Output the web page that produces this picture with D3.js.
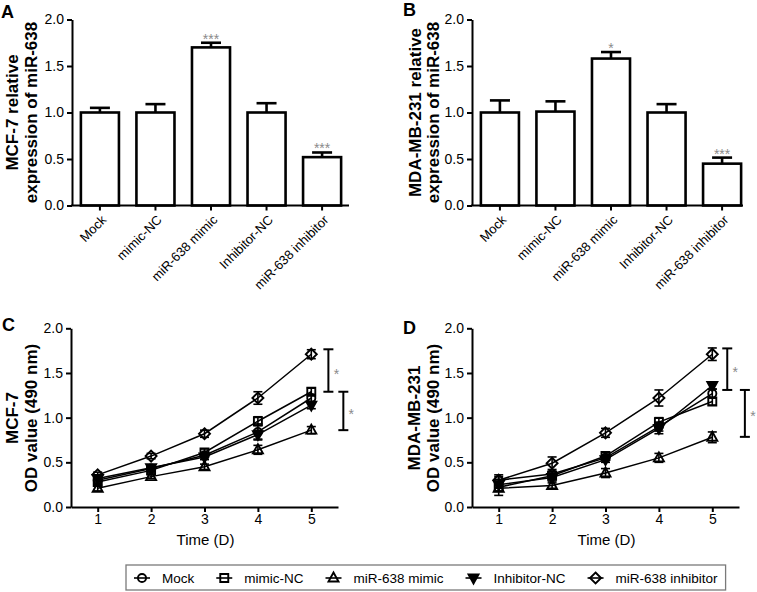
<!DOCTYPE html>
<html><head><meta charset="utf-8">
<script src="https://cdn.jsdelivr.net/npm/d3@7"></script>
<style>body{margin:0;background:#fff}svg{display:block}</style>
</head><body>
<svg id="c" width="757" height="592"></svg>
<script>
// ---------- DATA ----------
const categories = ["Mock", "mimic-NC", "miR-638 mimic", "Inhibitor-NC", "miR-638 inhibitor"];
const yTickValues = [0, 0.5, 1.0, 1.5, 2.0];

// Panel A: MCF-7 relative expression
const mcfBarValues = [1.00, 1.00, 1.70, 1.00, 0.52];
const mcfBarErrors = [0.05, 0.09, 0.05, 0.10, 0.05];
const mcfBarStars  = ["", "", "***", "", "***"];
// Panel B: MDA-MB-231 relative expression
const mdaBarValues = [1.00, 1.01, 1.58, 1.00, 0.45];
const mdaBarErrors = [0.13, 0.11, 0.07, 0.09, 0.065];
const mdaBarStars  = ["", "", "*", "", "***"];

// Panels C/D: OD value over days
const days = [1, 2, 3, 4, 5];
const seriesNames = ["Mock", "mimic-NC", "miR-638 mimic", "Inhibitor-NC", "miR-638 inhibitor"];
const seriesSymbols = ["circle", "square", "triangle", "triangleDown", "diamond"];

const mcfMock      = [0.30, 0.43, 0.58, 0.84, 1.22];
const mcfMockErr   = [0.03, 0.03, 0.03, 0.09, 0.04];
const mcfMimicNC   = [0.28, 0.41, 0.61, 0.96, 1.29];
const mcfMimicNCErr= [0.03, 0.03, 0.04, 0.05, 0.04];
const mcfMimic     = [0.21, 0.34, 0.45, 0.64, 0.86];
const mcfMimicErr  = [0.03, 0.02, 0.03, 0.05, 0.04];
const mcfInhNC     = [0.32, 0.44, 0.56, 0.81, 1.14];
const mcfInhNCErr  = [0.03, 0.03, 0.03, 0.05, 0.04];
const mcfInhib     = [0.36, 0.57, 0.82, 1.22, 1.71];
const mcfInhibErr  = [0.03, 0.03, 0.04, 0.07, 0.05];
const mcfBrackets  = [[1.765, 1.29], [1.29, 0.86]];

const mdaMock      = [0.30, 0.37, 0.55, 0.90, 1.27];
const mdaMockErr   = [0.06, 0.03, 0.03, 0.05, 0.05];
const mdaMimicNC   = [0.22, 0.35, 0.57, 0.95, 1.18];
const mdaMimicNCErr= [0.09, 0.03, 0.04, 0.05, 0.04];
const mdaMimic     = [0.21, 0.24, 0.38, 0.55, 0.78];
const mdaMimicErr  = [0.03, 0.03, 0.05, 0.05, 0.06];
const mdaInhNC     = [0.25, 0.33, 0.53, 0.88, 1.36];
const mdaInhNCErr  = [0.04, 0.04, 0.03, 0.06, 0.04];
const mdaInhib     = [0.30, 0.49, 0.83, 1.22, 1.71];
const mdaInhibErr  = [0.04, 0.07, 0.05, 0.09, 0.07];
const mdaBrackets  = [[1.775, 1.31], [1.31, 0.785]];

// ---------- DRAWING ----------
const FONT = "'Liberation Sans', Arial, Helvetica, sans-serif";
const svg = d3.select("#c").style("font-family", FONT);
svg.append("rect").attr("width", 757).attr("height", 592).attr("fill", "#fff");
const fmt = d3.format(".1f");

function styleAxis(g) {
  g.select(".domain").attr("stroke", "#000").attr("stroke-width", 2);
  g.selectAll(".tick line").attr("stroke", "#000").attr("stroke-width", 2);
  g.selectAll(".tick text").attr("fill", "#000").style("font-size", "14px").style("font-family", FONT);
}

function yTitle(x1, x2, yc, lines) {
  [x1, x2].forEach((x, i) => {
    svg.append("text").attr("transform", `translate(${x},${yc}) rotate(-90)`)
      .attr("text-anchor", "middle").style("font-size", "17px").style("font-weight", "bold")
      .text(lines[i]);
  });
}
function letter(x, y, t) {
  svg.append("text").attr("x", x).attr("y", y).style("font-size", "18px").style("font-weight", "bold").text(t);
}

function barPanel(cfg, values, errors, stars) {
  const x = d3.scaleBand().domain(categories).range([cfg.x0, cfg.x1]).paddingInner(0.315).paddingOuter(0.16);
  const y = d3.scaleLinear().domain([0, 2]).range([cfg.yb, cfg.yt]);
  const bw = x.bandwidth();
  const g = svg.append("g");
  g.selectAll("rect.bar").data(categories).join("rect")
    .attr("x", d => x(d)).attr("y", (d, i) => y(values[i]))
    .attr("width", bw).attr("height", (d, i) => y(0) - y(values[i]))
    .attr("fill", "#fff").attr("stroke", "#000").attr("stroke-width", 2.6);
  categories.forEach((c, i) => {
    const cx = x(c) + bw / 2, top = y(values[i] + errors[i]);
    g.append("line").attr("x1", cx).attr("x2", cx).attr("y1", y(values[i])).attr("y2", top)
      .attr("stroke", "#000").attr("stroke-width", 2.6);
    g.append("line").attr("x1", cx - 10).attr("x2", cx + 10).attr("y1", top).attr("y2", top)
      .attr("stroke", "#000").attr("stroke-width", 2.6);
    if (stars[i]) {
      g.append("text").attr("x", cx).attr("y", top + 1).attr("text-anchor", "middle")
        .attr("fill", "#8a8a8a").style("font-size", "14px").text(stars[i]);
    }
  });
  const ya = g.append("g").attr("transform", `translate(${cfg.x0},0)`)
    .call(d3.axisLeft(y).tickValues(yTickValues).tickFormat(fmt).tickSize(5).tickPadding(3).tickSizeOuter(0));
  styleAxis(ya);
  g.append("line").attr("x1", cfg.x0 - 1).attr("x2", cfg.axisEnd).attr("y1", cfg.yb).attr("y2", cfg.yb)
    .attr("stroke", "#000").attr("stroke-width", 2);
  categories.forEach(c => {
    const cx = x(c) + bw / 2;
    g.append("line").attr("x1", cx).attr("x2", cx).attr("y1", cfg.yb).attr("y2", cfg.yb + 5)
      .attr("stroke", "#000").attr("stroke-width", 2);
    g.append("text").attr("transform", `translate(${cx + 4},${cfg.yb + 12}) rotate(-45)`)
      .attr("text-anchor", "end").attr("dy", "0.35em").style("font-size", "13px").text(c);
  });
}

function markerPath(sym) {
  if (sym === "circle") return d3.symbol(d3.symbolCircle, 52)();
  if (sym === "square") return d3.symbol(d3.symbolSquare, 64)();
  if (sym === "triangle") return "M0,-5.5L5,3.5L-5,3.5Z";
  if (sym === "triangleDown") return "M0,5.5L5,-3.5L-5,-3.5Z";
  return "M0,-5.5L5.5,0L0,5.5L-5.5,0Z";
}
function drawMarker(g, sym, cx, cy) {
  g.append("path").attr("d", markerPath(sym)).attr("transform", `translate(${cx},${cy})`)
    .attr("fill", sym === "triangleDown" ? "#000" : "none").attr("stroke", "#000").attr("stroke-width", 1.9);
}

function linePanel(cfg, series, errs, brackets) {
  const x = d3.scaleLinear().domain([0.5, 5.5]).range([cfg.x0, cfg.x1]);
  const y = d3.scaleLinear().domain([0, 2]).range([cfg.yb, cfg.yt]);
  const g = svg.append("g");
  const line = d3.line().x((d, i) => x(days[i])).y(d => y(d));
  series.forEach(vals => {
    g.append("path").attr("d", line(vals)).attr("fill", "none").attr("stroke", "#000").attr("stroke-width", 1.5);
  });
  series.forEach((vals, s) => {
    vals.forEach((v, i) => {
      const cx = x(days[i]), e = errs[s][i];
      g.append("line").attr("x1", cx).attr("x2", cx).attr("y1", y(v - e)).attr("y2", y(v + e))
        .attr("stroke", "#000").attr("stroke-width", 1.6);
      [v - e, v + e].forEach(w => g.append("line").attr("x1", cx - 4.5).attr("x2", cx + 4.5)
        .attr("y1", y(w)).attr("y2", y(w)).attr("stroke", "#000").attr("stroke-width", 1.6));
      drawMarker(g, seriesSymbols[s], cx, y(v));
    });
  });
  const ya = g.append("g").attr("transform", `translate(${cfg.x0},0)`)
    .call(d3.axisLeft(y).tickValues(yTickValues).tickFormat(fmt).tickSize(5).tickPadding(3).tickSizeOuter(0));
  styleAxis(ya);
  const xa = g.append("g").attr("transform", `translate(0,${cfg.yb})`)
    .call(d3.axisBottom(x).tickValues(days).tickFormat(d3.format("d")).tickSize(5).tickPadding(2).tickSizeOuter(0));
  styleAxis(xa);
  g.append("text").attr("x", (cfg.x0 + cfg.x1) / 2 + 1).attr("y", cfg.yb + 38).attr("text-anchor", "middle")
    .style("font-size", "15px").text("Time (D)");
  brackets.forEach((b, k) => {
    const bx = x(cfg.bracketX[k]);
    g.append("line").attr("x1", bx).attr("x2", bx).attr("y1", y(b[0])).attr("y2", y(b[1]))
      .attr("stroke", "#000").attr("stroke-width", 2);
    b.forEach(w => g.append("line").attr("x1", bx - 5).attr("x2", bx + 5).attr("y1", y(w)).attr("y2", y(w))
      .attr("stroke", "#000").attr("stroke-width", 2));
    g.append("text").attr("x", bx + 8).attr("y", (y(b[0]) + y(b[1])) / 2 + 8)
      .attr("text-anchor", "middle").attr("fill", "#8a8a8a").style("font-size", "14px").text("*");
  });
}

// Panel A
barPanel({x0: 72, x1: 350, axisEnd: 349, yt: 19.5, yb: 205.5}, mcfBarValues, mcfBarErrors, mcfBarStars);
yTitle(18, 37, 112.5, ["MCF-7 relative", "expression of miR-638"]);
letter(1, 18, "A");
// Panel B
barPanel({x0: 472, x1: 750, axisEnd: 743, yt: 19.5, yb: 205.5}, mdaBarValues, mdaBarErrors, mdaBarStars);
yTitle(421, 439, 112.5, ["MDA-MB-231 relative", "expression of miR-638"]);
letter(403, 16, "B");
// Panel C
linePanel({x0: 71, x1: 338, yt: 328.3, yb: 507, bracketX: [5.32, 5.6]},
  [mcfMock, mcfMimicNC, mcfMimic, mcfInhNC, mcfInhib],
  [mcfMockErr, mcfMimicNCErr, mcfMimicErr, mcfInhNCErr, mcfInhibErr], mcfBrackets);
yTitle(18, 37, 418, ["MCF-7", "OD value (490 nm)"]);
letter(2, 331, "C");
// Panel D
linePanel({x0: 472, x1: 739, yt: 328.3, yb: 507, bracketX: [5.28, 5.61]},
  [mdaMock, mdaMimicNC, mdaMimic, mdaInhNC, mdaInhib],
  [mdaMockErr, mdaMimicNCErr, mdaMimicErr, mdaInhNCErr, mdaInhibErr], mdaBrackets);
yTitle(420, 439, 418, ["MDA-MB-231", "OD value (490 nm)"]);
letter(403, 334, "D");

// Legend
const lg = svg.append("g");
const box = lg.append("rect").attr("y", 565).attr("height", 25).attr("fill", "#fff")
  .attr("stroke", "#7a7a7a").attr("stroke-width", 1.3);
let lx = 134;
const ly = 578;
seriesNames.forEach((name, s) => {
  lg.append("line").attr("x1", lx).attr("x2", lx + 16).attr("y1", ly).attr("y2", ly)
    .attr("stroke", "#000").attr("stroke-width", 1.6);
  drawMarker(lg, seriesSymbols[s], lx + 8, ly);
  const t = lg.append("text").attr("x", lx + 28).attr("y", ly + 5).style("font-size", "13.5px").text(name);
  const w = t.node().getComputedTextLength();
  lx = lx + 28 + w + 22;
});
box.attr("x", 126).attr("width", (lx - 22 + 8) - 126);
</script>
</body></html>
